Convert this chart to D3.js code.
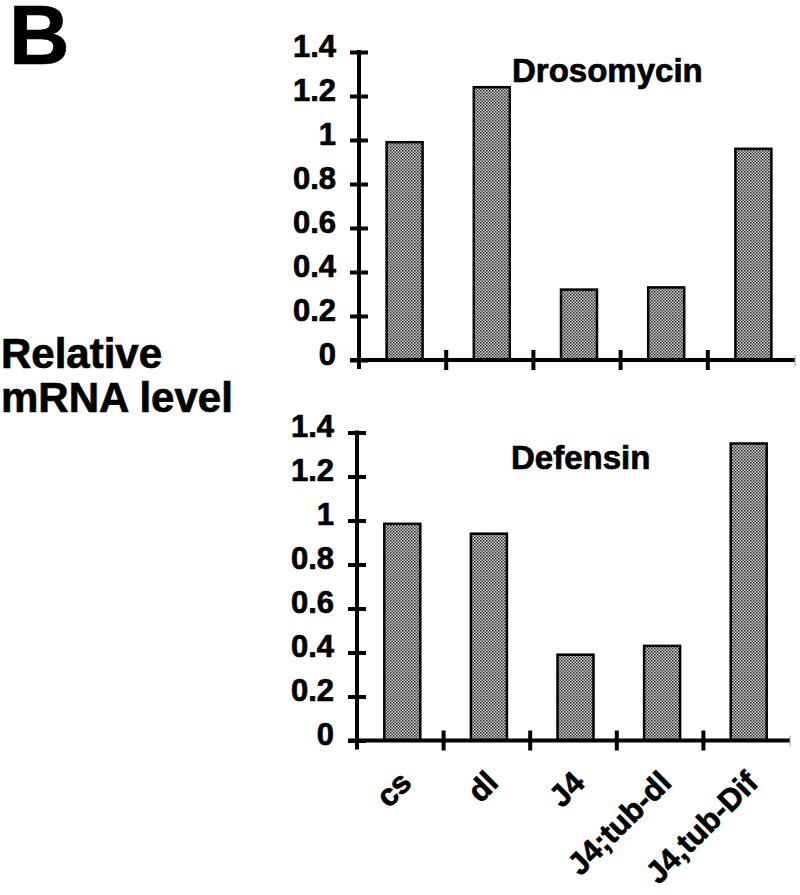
<!DOCTYPE html>
<html>
<head>
<meta charset="utf-8">
<script src="https://cdn.jsdelivr.net/npm/d3@7"></script>
<style>
  body { margin: 0; background: #fff; }
  svg text { font-family: "Liberation Sans", Arial, Helvetica, sans-serif; font-weight: bold; fill: #000; stroke: #000; stroke-width: 0.7px; }
</style>
</head>
<body>
<svg id="canvas"></svg>
<script>
let categories = ["cs", "dl", "J4", "J4;tub-dl", "J4,tub-Dif"]
let drosomycin = [0.99, 1.24, 0.32, 0.33, 0.96]
let defensin = [0.985, 0.94, 0.39, 0.43, 1.35]
let yTicks = [0, 0.2, 0.4, 0.6, 0.8, 1, 1.2, 1.4]

let width = 800
let height = 895

let canvas = d3.select('#canvas')
               .attr('width', width)
               .attr('height', height)

// halftone fill used for the bars
let defs = canvas.append('defs')
let pat = defs.append('pattern')
              .attr('id', 'dots')
              .attr('width', 3)
              .attr('height', 3)
              .attr('patternUnits', 'userSpaceOnUse')
pat.append('rect').attr('width', 3).attr('height', 3).attr('fill', '#cfcfcf')
pat.append('rect').attr('width', 1.5).attr('height', 1.5).attr('fill', '#2a2a2a')
pat.append('rect').attr('x', 1.5).attr('y', 1.5).attr('width', 1.5).attr('height', 1.5).attr('fill', '#444')

let panels = [
  { title: 'Drosomycin', values: drosomycin, top: 52, bottom: 360, left: 359, right: 795, titleX: 512, titleY: 82, labels: false },
  { title: 'Defensin', values: defensin, top: 432.5, bottom: 740.5, left: 357, right: 790, titleX: 511, titleY: 469, labels: true }
]

let drawPanel = (p) => {
  let xScale = d3.scaleBand()
                 .domain(categories)
                 .range([p.left, p.right])

  let yScale = d3.scaleLinear()
                 .domain([0, 1.4])
                 .range([p.bottom, p.top])

  let g = canvas.append('g')

  // bars
  let barWidth = 36
  g.selectAll('rect.bar')
   .data(p.values)
   .enter()
   .append('rect')
   .attr('class', 'bar')
   .attr('x', (d, i) => xScale(categories[i]) + xScale.bandwidth() / 2 - barWidth / 2 + 2)
   .attr('y', (d) => yScale(d))
   .attr('width', barWidth)
   .attr('height', (d) => yScale(0) - yScale(d))
   .attr('fill', 'url(#dots)')
   .attr('stroke', '#000')
   .attr('stroke-width', 2.5)

  // y axis, ticks crossing the line
  let yAxis = d3.axisLeft(yScale)
                .tickValues(yTicks)
                .tickFormat(d3.format('~g'))
                .tickSize(9)
                .tickPadding(14)

  let ya = g.append('g')
            .attr('transform', `translate(${p.left}, 0)`)
            .call(yAxis)
  ya.select('.domain').remove()
  ya.selectAll('.tick line')
    .attr('x1', -9)
    .attr('x2', 9)
    .attr('stroke', '#000')
    .attr('stroke-width', 4)
  ya.selectAll('.tick text')
    .attr('dy', '0.14em')
    .style('font-size', '31px')
  ya.append('line')
    .attr('x1', 0)
    .attr('x2', 0)
    .attr('y1', yScale(1.4) - 2)
    .attr('y2', yScale(0) + 9)
    .attr('stroke', '#000')
    .attr('stroke-width', 4)

  // x axis line and tick marks between categories
  g.append('line')
   .attr('x1', p.left - 9)
   .attr('x2', p.right)
   .attr('y1', yScale(0))
   .attr('y2', yScale(0))
   .attr('stroke', '#000')
   .attr('stroke-width', 4)

  g.selectAll('line.xtick')
   .data(categories.slice(1))
   .enter()
   .append('line')
   .attr('class', 'xtick')
   .attr('x1', (d) => xScale(d))
   .attr('x2', (d) => xScale(d))
   .attr('y1', yScale(0) - 10)
   .attr('y2', yScale(0) + 10)
   .attr('stroke', '#000')
   .attr('stroke-width', 4)

  g.append('line')
   .attr('x1', p.right)
   .attr('x2', p.right)
   .attr('y1', yScale(0) - 5)
   .attr('y2', yScale(0) + 6)
   .attr('stroke', '#999')
   .attr('stroke-width', 1)

  g.append('text')
   .attr('x', p.titleX)
   .attr('y', p.titleY)
   .style('font-size', '33px')
   .text(p.title)

  if (p.labels) {
    g.selectAll('text.xlab')
     .data(categories)
     .enter()
     .append('text')
     .attr('class', 'xlab')
     .attr('text-anchor', 'end')
     .attr('transform', (d) => `translate(${xScale(d) + xScale.bandwidth() / 2 + 13}, ${yScale(0) + 44}) rotate(-45)`)
     .style('font-size', '31px')
     .text((d) => d)
  }
}

panels.forEach(drawPanel)

canvas.append('text')
      .attr('x', 9)
      .attr('y', 64)
      .style('font-size', '84px')
      .text('B')

let ylab = canvas.append('text')
                 .style('font-size', '42px')
ylab.append('tspan').attr('x', 1).attr('y', 368).text('Relative')
ylab.append('tspan').attr('x', 1).attr('y', 412).text('mRNA level')
</script>
</body>
</html>
